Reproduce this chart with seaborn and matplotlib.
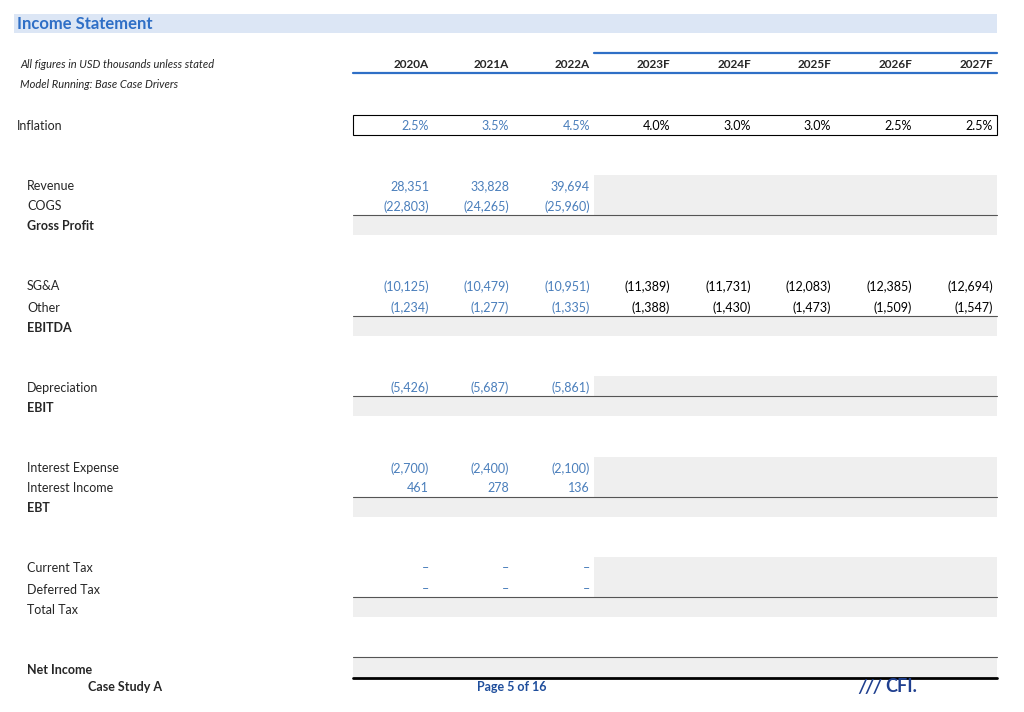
import matplotlib
matplotlib.use("Agg")
import matplotlib.pyplot as plt
import seaborn as sns
from matplotlib.patches import Rectangle

sns.set_theme(style="white", rc={"font.family": "Lato"})

years = ["2020A", "2021A", "2022A", "2023F", "2024F", "2025F", "2026F", "2027F"]
inflation = ["2.5%", "3.5%", "4.5%", "4.0%", "3.0%", "3.0%", "2.5%", "2.5%"]
revenue = ["28,351", "33,828", "39,694"]
cogs = ["(22,803)", "(24,265)", "(25,960)"]
sga = ["(10,125)", "(10,479)", "(10,951)", "(11,389)", "(11,731)", "(12,083)", "(12,385)", "(12,694)"]
other = ["(1,234)", "(1,277)", "(1,335)", "(1,388)", "(1,430)", "(1,473)", "(1,509)", "(1,547)"]
depreciation = ["(5,426)", "(5,687)", "(5,861)"]
interest_exp = ["(2,700)", "(2,400)", "(2,100)"]
interest_inc = ["461", "278", "136"]
current_tax = ["–", "–", "–"]
deferred_tax = ["–", "–", "–"]

BLUE = "#4a7ebb"
DARKBLUE = "#2f6fc6"
GRAY = "#efefef"

fig = plt.figure(figsize=(10.24, 7.12), dpi=100)
ax = fig.add_axes([0, 0, 1, 1])
ax.set_xlim(0, 1024)
ax.set_ylim(712, 0)
ax.axis("off")

L, R = 353, 997
edges = [353, 433, 513, 594, 674, 755, 835, 916, 997]
FS = 9
DY = 1.5

def rect(x0, y0, x1, y1, **kw):
    ax.add_patch(Rectangle((x0, y0), x1 - x0, y1 - y0, **kw))

rect(14, 14, 997, 33, color="#dce6f5", lw=0)
ax.text(17, 24, "Income Statement", color=DARKBLUE, fontsize=12, fontweight="bold", va="center")

ax.text(20, 64, "All figures in USD thousands unless stated", fontsize=8, style="italic", va="center")
ax.text(20, 84, "Model Running: Base Case Drivers", fontsize=8, style="italic", va="center")
for i, y in enumerate(years):
    ax.text(edges[i + 1] - 4, 64, y, fontsize=8.5, fontweight="bold", ha="right", va="center")
ax.plot([L, R], [73, 73], color=DARKBLUE, lw=1.6)
ax.plot([594, R], [53, 53], color=DARKBLUE, lw=1.6)

ax.text(17, 125 + DY, "Inflation", fontsize=FS, va="center")
rect(L, 115, R, 135, fill=False, ec="black", lw=0.8)
for i, v in enumerate(inflation):
    ax.text(edges[i + 1] - 4, 125 + DY, v, fontsize=FS, ha="right", va="center",
            color=BLUE if i < 3 else "black")

for y0, y1 in [(175, 215), (376, 396), (457, 497), (557, 597)]:
    rect(594, y0, R, y1, color=GRAY, lw=0)
for y0 in [215, 316, 396, 497, 597, 657]:
    rect(L, y0, R, y0 + 20, color=GRAY, lw=0)
    ax.plot([L, R], [y0, y0], color="#555555", lw=0.8)
ax.plot([L, R], [678, 678], color="black", lw=2)

def row(y, label, vals, bold=False, color=BLUE):
    ax.text(27, y + DY, label, fontsize=FS, va="center", fontweight="bold" if bold else "normal")
    for i, v in enumerate(vals):
        ax.text(edges[i + 1] - 4, y + DY, v, fontsize=FS, ha="right", va="center",
                color=color if i < 3 else "black")

row(185, "Revenue", revenue)
row(205, "COGS", cogs)
row(225, "Gross Profit", [], bold=True)
row(285, "SG&A", sga)
row(306, "Other", other)
row(326, "EBITDA", [], bold=True)
row(386, "Depreciation", depreciation)
row(406, "EBIT", [], bold=True)
row(467, "Interest Expense", interest_exp)
row(487, "Interest Income", interest_inc)
row(507, "EBT", [], bold=True)
row(567, "Current Tax", current_tax)
row(588, "Deferred Tax", deferred_tax)
row(608, "Total Tax", [])
row(668, "Net Income", [], bold=True)

ax.text(88, 687, "Case Study A", fontsize=FS, fontweight="bold", va="center")
ax.text(512, 687, "Page 5 of 16", fontsize=FS, fontweight="bold", color="#1f4e9c", ha="center", va="center")
ax.text(858, 687, "///", fontsize=13, fontweight="bold", style="italic", color="#1f3f8f", va="center")
ax.text(885, 687, "CFI.", fontsize=13, fontweight="bold", color="#1f3f8f", va="center")

fig.savefig("out.png", dpi=100, facecolor="white")
